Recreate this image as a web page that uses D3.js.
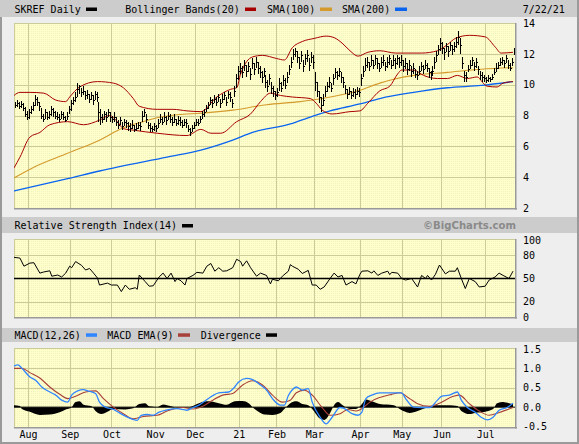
<!DOCTYPE html>
<html><head><meta charset="utf-8">
<script src="https://cdn.jsdelivr.net/npm/d3@7/dist/d3.min.js"></script>
<style>html,body{margin:0;padding:0;background:#eeeeee;overflow:hidden}</style>
</head><body><svg id="c" width="579" height="444"></svg>
<script>
// ---------- DATA ----------
const monthLabels = ["Aug","Sep","Oct","Nov","Dec","21","Feb","Mar","Apr","May","Jun","Jul"];
const monthStarts = [7,28,49,71,91,113,132,151,174,195,215,237];   // trading-day index of month start
const priceTicks = [2,4,6,8,10,12,14];
const rsiTicks = [0,20,50,80,100];
const macdTicks = [-0.5,0,0.5,1.0,1.5];

const hi = [8.9,9.0,8.85,8.95,8.8, 8.55,8.3,8.4,8.6, 8.9,9.3,9.2,8.9, 8.5,8.1,8.4,8.2,8.3, 8.6,8.5,8.3,
  8.2,8.1,8.3,8.2,8.0,8.2, 8.6,9.0,9.2,9.5, 10.1,10.0,9.8,9.9, 9.6,9.65,9.4,9.5,9.3,9.6,9.5, 8.9,8.4,
  8.1,8.3,8.2,8.4,8.2,8.0, 8.2,7.9,7.7,7.9,7.6,7.8,7.7, 7.6,7.5,7.7,7.4,7.5,7.6,7.6, 8.3,8.4,8.1,
  7.6,7.5,7.3,7.5,7.4,7.8, 8.1,7.9,8.2,8.0,8.2,8.1,7.9,8.1,7.8,8.0,7.9,7.7,7.8,7.8, 7.4,7.2,7.4,
  7.6,7.8,7.8,8.0, 8.3,8.4,8.7, 8.9,9.2,9.1,9.3,9.2,9.4,9.1, 9.4,9.5,9.2,9.6,9.5,9.1,9.9, 10.7,11.2,11.4,
  11.2,11.6,11.3,11.5,11.1,11.7,11.4,11.8,11.5, 11.2,10.9,11.1,10.6,10.3,10.7,10.2,9.9, 9.6,9.8,
  10.4,10.2,10.6,10.4,10.8, 11.3,11.8,12.3,12.4,12.2, 11.8,12.2,11.6,12.0,12.25,11.7,12.1,11.9, 10.8,10.2,
  9.6,9.2,9.4, 9.9,10.2,10.5,10.1,10.7, 11.1,10.9,11.1,10.8,10.5, 10.0,9.7,9.85,9.6,9.8,9.7,9.85,9.8,
  10.7,11.2,11.7, 11.8,11.5,11.9,11.6,11.9,11.7,11.4,11.8,11.9,11.5,11.8,11.9,11.6,11.9,11.7,11.9,11.8,11.9,
  11.6,11.7,11.4,11.6,11.2,11.4,11.0,10.9, 11.2,11.5,11.3,11.6,11.4,11.1,10.9,11.2, 11.8,12.2,12.6, 13.0,12.8,
  12.4,12.7,12.5,12.8,12.6,12.8,13.1, 13.5,13.0, 11.8, 10.9,10.8, 11.3,11.6,11.8,11.5,11.7, 11.2,10.9,10.8,
  10.6,10.5,10.6,10.5,10.7, 11.1,11.4,11.5, 11.7,11.8,11.6,11.9, 11.6,11.4,11.7, 12.4];
const lo = [8.5,8.55,8.4,8.5,8.3, 7.9,7.7,7.8,8.1, 8.3,8.6,8.6,8.3, 7.8,7.6,7.8,7.7,7.8, 8.0,7.9,7.8,
  7.7,7.6,7.8,7.7,7.6,7.7, 8.1,8.3,8.7,8.9, 9.2,9.4,9.2,9.3, 9.0,9.1,8.8,9.0,8.7,9.0,8.9, 7.6,7.4,
  7.5,7.7,7.6,7.9,7.6,7.5, 7.6,7.3,7.1,7.4,7.05,7.3,7.2, 7.0,6.95,7.1,6.9,7.0,7.1,7.0, 7.6,7.9,7.5,
  7.1,6.9,6.9,7.0,6.95,7.2, 7.5,7.4,7.6,7.4,7.7,7.5,7.3,7.5,7.3,7.4,7.3,7.2,7.3,7.2, 6.9,6.7,6.9,
  7.1,7.3,7.3,7.5, 7.8,7.9,8.2, 8.4,8.7,8.5,8.8,8.6,8.9,8.5, 8.8,9.0,8.6,9.1,8.9,8.5,9.2, 9.8,10.3,10.7,
  10.4,10.9,10.5,10.8,10.3,11.0,10.6,11.1,10.7, 10.4,10.1,10.5,9.8,9.5,10.0,9.4,9.2, 9.0,9.2,
  9.6,9.5,9.9,9.7,10.1, 10.6,11.1,11.6,11.8,11.4, 11.0,11.5,10.8,11.3,11.5,10.9,11.4,11.0, 9.6,9.2,
  8.8,8.2,8.6, 9.2,9.5,9.8,9.5,10.0, 10.4,10.3,10.5,10.1,9.8, 9.4,9.1,9.3,9.1,9.2,9.1,9.3,9.2,
  9.9,10.5,10.9, 11.1,10.9,11.2,11.0,11.3,11.0,10.8,11.1,11.2,10.9,11.1,11.3,11.0,11.2,11.0,11.3,11.1,11.2,
  10.8,11.0,10.6,10.9,10.5,10.7,10.4,10.3, 10.6,10.9,10.7,11.0,10.8,10.4,10.3,10.6, 11.0,11.5,11.9, 12.2,12.0,
  11.6,12.1,11.8,12.2,11.9,12.1,12.4, 12.6,12.0, 11.0, 10.2,10.2, 10.8,11.0,11.2,10.9,11.1, 10.6,10.3,10.2,
  10.2,10.1,10.2,10.2,10.3, 10.6,10.8,11.0, 11.2,11.3,11.1,11.4, 11.0,10.9,11.2, 11.9];
const cl = [8.7,8.8,8.6,8.75,8.5, 8.1,7.9,8.2,8.4, 8.7,9.1,8.9,8.6, 8.0,7.8,8.2,7.9,8.1, 8.4,8.2,8.0,
  7.9,7.8,8.1,7.9,7.7,8.0, 8.4,8.8,9.0,9.2, 9.7,9.9,9.5,9.6, 9.3,9.4,9.1,9.3,9.0,9.4,9.2, 8.2,7.9,
  7.8,8.1,7.9,8.2,7.9,7.8, 7.9,7.6,7.4,7.7,7.3,7.6,7.5, 7.3,7.2,7.4,7.1,7.2,7.4,7.3, 8.0,8.2,7.8,
  7.4,7.2,7.1,7.3,7.2,7.5, 7.8,7.6,7.9,7.7,8.0,7.8,7.6,7.8,7.5,7.7,7.6,7.4,7.6,7.5, 7.1,6.9,7.2,
  7.4,7.6,7.5,7.8, 8.1,8.2,8.5, 8.7,9.0,8.8,9.1,8.9,9.2,8.8, 9.1,9.3,8.9,9.4,9.2,8.8,9.6, 10.4,10.9,11.1,
  10.8,11.3,10.9,11.2,10.7,11.4,11.0,11.5,11.1, 10.8,10.5,10.9,10.2,9.9,10.4,9.8,9.6, 9.3,9.5,
  10.1,9.8,10.3,10.0,10.5, 11.0,11.5,12.0,12.2,11.8, 11.4,11.9,11.2,11.7,11.9,11.3,11.8,11.5, 10.2,9.6,
  9.2,8.7,9.0, 9.6,9.9,10.2,9.8,10.4, 10.8,10.6,10.9,10.5,10.2, 9.7,9.4,9.6,9.3,9.5,9.4,9.6,9.5,
  10.4,10.9,11.3, 11.5,11.2,11.6,11.3,11.7,11.4,11.1,11.5,11.6,11.2,11.5,11.7,11.3,11.6,11.4,11.7,11.5,11.6,
  11.2,11.4,11.0,11.3,10.9,11.1,10.7,10.6, 10.9,11.2,11.0,11.3,11.1,10.8,10.6,10.9, 11.5,11.9,12.3, 12.7,12.4,
  12.1,12.5,12.2,12.6,12.3,12.5,12.8, 13.1,12.6, 11.4, 10.6,10.5, 11.0,11.3,11.6,11.2,11.5, 11.0,10.6,10.5,
  10.4,10.3,10.45,10.35,10.5, 10.8,11.1,11.3, 11.5,11.6,11.4,11.7, 11.3,11.1,11.5, 12.2];

// overlays: [trading-day index, value]
const bbUpper = [[0,9.3],[3,9.5],[8,9.5],[15,9.45],[21,9.0],[26,8.9],[28,9.2],[33,9.85],[42,10.2],[50,10.1],[55,9.8],[60,9.1],[63,8.6],[72,8.4],[80,8.4],[87,8.3],[94,8.25],[102,9.2],[109,9.7],[112,9.8],[114,10.7],[120,11.8],[125,11.9],[132,11.7],[136,11.6],[140,12.4],[145,12.8],[151,13.0],[157,13.15],[161,13.05],[165,12.7],[169,12.2],[173,11.85],[178,12.1],[184,12.2],[192,12.05],[205,12.05],[213,12.2],[218,12.6],[222,13.0],[229,13.2],[237,13.1],[242,12.45],[245,12.05],[251,12.1]];
const bbLower = [[0,4.6],[3,5.3],[8,6.6],[13,6.9],[18,7.4],[27,7.6],[35,7.4],[43,7.7],[48,8.0],[52,7.6],[55,7.15],[60,7.05],[72,6.85],[87,6.7],[94,7.1],[99,6.85],[104,6.85],[112,7.6],[119,8.1],[124,8.9],[129,9.45],[134,9.3],[140,9.2],[149,9.1],[152,8.8],[155,8.35],[160,8.1],[169,8.25],[174,8.3],[178,8.8],[184,9.6],[189,9.9],[193,10.7],[195,10.95],[201,10.95],[206,10.6],[213,10.4],[218,10.4],[223,10.6],[228,10.4],[233,10.5],[236,10.1],[238,9.9],[243,9.85],[246,10.1],[251,10.2]];
const sma100 = [[0,3.95],[10,4.65],[27,5.55],[43,6.4],[55,7.2],[65,7.6],[72,7.85],[82,8.05],[94,8.15],[110,8.35],[127,8.7],[144,8.9],[155,9.1],[173,9.6],[184,10.1],[191,10.35],[201,10.6],[218,10.8],[235,11.0],[251,11.1]];
const sma200 = [[0,3.1],[27,3.9],[43,4.4],[77,5.3],[94,5.75],[110,6.4],[120,6.9],[139,7.45],[150,7.95],[159,8.3],[174,8.75],[184,9.1],[201,9.5],[218,9.8],[235,9.95],[251,10.2]];

const rsi = [[0,77.5],[3,76.5],[5,66],[8,70],[10,70.5],[13,57],[15,58.5],[18,60],[19,53],[22,54.5],[24,52],[26,57],[28,66],[29,64],[31,72],[34,67],[36,61],[38,63],[40,57],[42,50.5],[43,41.5],[47,44],[49,41.5],[52,41.5],[54,33],[56,41.5],[58,36],[61,38],[62,36],[63,54.5],[66,46],[68,40],[70,40.5],[73,52],[75,57],[77,50],[79,57],[81,46],[82,50],[84,47],[86,41.5],[87,50],[90,54],[92,58],[95,57],[97,66],[99,69.5],[101,59.5],[103,64],[105,59.5],[107,60],[110,64],[112,75],[114,72],[115,66],[117,73],[119,64],[122,53],[124,57],[127,54],[129,43],[130,49],[133,47],[135,53],[138,59.5],[139,68],[140,66],[143,62],[145,56.5],[148,60.5],[150,41.5],[152,41.5],[154,36],[156,39],[159,50],[161,57],[163,52],[165,54],[167,41.5],[170,46],[172,43],[174,55.5],[175,59.5],[178,60],[180,57],[181,60],[183,54],[185,57],[188,59.5],[189,55],[190,58],[193,57],[195,50],[197,48],[200,50],[203,39],[205,54],[207,50],[208,54],[210,48],[212,55.5],[214,67.5],[217,56],[219,59.5],[222,59.5],[223,64],[225,50],[227,37],[229,50],[232,46],[234,39],[237,40],[239,48],[242,52],[244,57],[246,54],[249,50],[251,59.5]];

const macd = [[0,1.06],[2,1.09],[4,1.0],[8,0.78],[11,0.69],[14,0.52],[18,0.39],[21,0.31],[24,0.18],[27,0.13],[29,0.31],[32,0.42],[35,0.45],[37,0.42],[41,0.35],[43,0.13],[46,0.0],[50,-0.06],[53,-0.15],[57,-0.26],[60,-0.32],[62,-0.34],[64,-0.21],[67,-0.19],[70,-0.21],[73,-0.13],[77,-0.07],[82,-0.04],[87,-0.08],[90,-0.01],[93,0.05],[98,0.23],[103,0.37],[108,0.39],[111,0.52],[113,0.65],[117,0.74],[120,0.71],[124,0.57],[127,0.44],[130,0.22],[134,0.05],[136,0.05],[138,0.3],[140,0.45],[142,0.52],[145,0.44],[148,0.48],[150,0.13],[154,-0.26],[157,-0.43],[160,-0.26],[164,-0.01],[166,-0.03],[170,-0.17],[173,-0.21],[175,-0.13],[177,0.22],[180,0.31],[184,0.37],[189,0.37],[195,0.37],[197,0.22],[201,0.0],[205,-0.01],[209,-0.01],[213,0.18],[215,0.28],[219,0.31],[223,0.39],[225,0.18],[228,-0.01],[232,-0.13],[235,-0.26],[238,-0.33],[241,-0.26],[244,-0.08],[248,-0.01],[251,0.1]];
const macdEma = [[0,1.0],[4,1.0],[8,0.89],[13,0.75],[18,0.52],[23,0.33],[27,0.22],[31,0.28],[36,0.39],[41,0.42],[45,0.22],[50,0.0],[55,-0.17],[60,-0.3],[65,-0.24],[72,-0.21],[77,-0.1],[85,-0.01],[90,-0.05],[95,0.02],[100,0.18],[105,0.31],[110,0.35],[115,0.57],[120,0.68],[125,0.57],[130,0.31],[135,0.13],[139,0.18],[142,0.37],[146,0.44],[150,0.31],[155,-0.01],[159,-0.21],[164,-0.17],[168,-0.06],[172,-0.1],[175,-0.04],[179,0.13],[184,0.25],[190,0.33],[194,0.37],[199,0.22],[203,0.09],[209,0.02],[214,0.1],[221,0.28],[224,0.31],[229,0.09],[234,-0.1],[239,-0.21],[244,-0.14],[251,-0.01]];
const divergence = [[0,0.05],[3,0.03],[4,-0.05],[8,-0.12],[13,-0.2],[18,-0.19],[23,-0.13],[26,-0.06],[29,0.0],[31,0.13],[33,0.15],[35,0.06],[39,0.02],[41,-0.1],[44,-0.18],[47,-0.12],[50,-0.05],[56,-0.06],[60,-0.03],[63,0.08],[66,0.1],[68,0.02],[72,0.0],[75,0.07],[77,0.05],[81,0.0],[86,-0.02],[90,0.03],[93,0.1],[97,0.15],[100,0.14],[103,0.1],[107,0.06],[111,0.15],[115,0.16],[118,0.1],[120,0.0],[123,-0.12],[126,-0.19],[130,-0.2],[134,-0.15],[136,-0.05],[139,0.1],[142,0.15],[145,0.08],[148,0.05],[150,-0.05],[154,-0.3],[156,-0.33],[159,-0.15],[161,0.05],[163,0.13],[165,0.06],[169,-0.05],[172,-0.05],[175,0.08],[177,0.2],[180,0.15],[184,0.08],[191,0.05],[194,-0.05],[199,-0.15],[203,-0.1],[207,-0.02],[212,0.05],[219,0.05],[223,0.03],[225,-0.1],[229,-0.18],[232,-0.15],[237,-0.12],[241,-0.05],[243,0.1],[246,0.13],[249,0.1],[251,0.08]];

// ---------- DRAW ----------
const W = 579, H = 444, X0 = 14, X1 = 515;
const FONT = "'DejaVu Sans Mono', monospace";
const svg = d3.select("#c");
const xs = d3.scaleLinear().domain([0, 252]).range([X0, X1]);
const yP = d3.scaleLinear().domain([2, 14]).range([208, 23]);
const yR = d3.scaleLinear().domain([0, 100]).range([317, 240]);
const yM = d3.scaleLinear().domain([-0.5, 1.5]).range([426.5, 349]);

const defs = svg.append("defs");
const pat = defs.append("pattern").attr("id","dots").attr("width",2).attr("height",2).attr("patternUnits","userSpaceOnUse");
pat.append("rect").attr("width",2).attr("height",2).attr("fill","#ffffcc");
pat.append("rect").attr("x",1).attr("y",1).attr("width",1).attr("height",1).attr("fill","#f2f2bf");

svg.append("rect").attr("width", W).attr("height", H).attr("fill", "#eeeeee");
// outer frame
svg.append("rect").attr("x", 0).attr("y", 17).attr("width", 2).attr("height", H - 17).attr("fill", "#9a9a9a");
svg.append("rect").attr("x", 577).attr("y", 0).attr("width", 2).attr("height", H).attr("fill", "#9a9a9a");
svg.append("rect").attr("x", 0).attr("y", 442).attr("width", W).attr("height", 2).attr("fill", "#9a9a9a");
// header bars
[[0, 17], [217, 16], [328, 14]].forEach(([y, h]) =>
  svg.append("rect").attr("x", y === 0 ? 0 : 2).attr("y", y).attr("width", y === 0 ? 577 : 575).attr("height", h).attr("fill", "#cccccc"));

function panel(id, top, bottom, yScale, gridVals) {
  const g = svg.append("g");
  g.append("rect").attr("x", X0).attr("y", top).attr("width", X1 - X0).attr("height", bottom - top).attr("fill", "url(#dots)");
  gridVals.forEach(v => g.append("line").attr("x1", X0).attr("x2", X1)
    .attr("y1", Math.round(yScale(v)) + 0.5).attr("y2", Math.round(yScale(v)) + 0.5)
    .attr("stroke", "#cccc99").attr("stroke-width", 1));
  monthStarts.forEach(m => g.append("line").attr("y1", top).attr("y2", bottom)
    .attr("x1", Math.round(xs(m)) + 0.5).attr("x2", Math.round(xs(m)) + 0.5)
    .attr("stroke", "#cccc99").attr("stroke-width", 1));
  g.append("line").attr("x1", X0).attr("x2", X1).attr("y1", top + 0.5).attr("y2", top + 0.5).attr("stroke", "#cccc99");
  g.append("line").attr("x1", X0 + 0.5).attr("x2", X0 + 0.5).attr("y1", top).attr("y2", bottom).attr("stroke", "#cccc99");
  g.append("line").attr("x1", X0).attr("x2", X1 + 2).attr("y1", bottom + 0.75).attr("y2", bottom + 0.75).attr("stroke", "#999999").attr("stroke-width", 1.5);
  g.append("line").attr("x1", X1 + 0.75).attr("x2", X1 + 0.75).attr("y1", top).attr("y2", bottom + 1.5).attr("stroke", "#999999").attr("stroke-width", 1.5);
  defs.append("clipPath").attr("id", id).append("rect").attr("x", X0).attr("y", top).attr("width", X1 - X0).attr("height", bottom - top);
  return svg.append("g").attr("clip-path", `url(#${id})`);
}

const gP = panel("cp", 23, 208, yP, [4, 6, 8, 10, 12]);
const gR = panel("cr", 239, 317, yR, [20, 80]);
const gM = panel("cm", 348, 427, yM, [0.5, 1.0]);

function drawLine(g, data, yScale, color, width, curve) {
  g.append("path").datum(data)
    .attr("d", d3.line().x(d => xs(d[0])).y(d => yScale(d[1])).curve(curve || d3.curveMonotoneX))
    .attr("fill", "none").attr("stroke", color).attr("stroke-width", width).attr("stroke-linejoin", "round");
}

// price overlays
drawLine(gP, sma200, yP, "#0a64f0", 1.3);
drawLine(gP, sma100, yP, "#d49a2c", 1.1);
drawLine(gP, bbUpper, yP, "#a80000", 1);
drawLine(gP, bbLower, yP, "#a80000", 1);

// price bars (HLC)
let pth = "";
d3.range(cl.length).forEach(i => {
  const x = Math.round(xs(i + 0.5)) + 0.5;
  pth += `M${x},${Math.round(yP(hi[i]))}V${Math.round(yP(lo[i]))}M${x - 0.5},${Math.round(yP(cl[i])) + 0.5}h2`;
});
gP.append("path").attr("d", pth).attr("stroke", "#000").attr("stroke-width", 1).attr("fill", "none")
  .attr("shape-rendering", "crispEdges");

// RSI
gR.append("line").attr("x1", X0).attr("x2", X1).attr("y1", yR(50)).attr("y2", yR(50)).attr("stroke", "#000").attr("stroke-width", 1.5);
drawLine(gR, rsi, yR, "#000", 1, d3.curveLinear);

// MACD
gM.append("path").datum(divergence)
  .attr("d", d3.area().x(d => xs(d[0])).y0(yM(0)).y1(d => yM(d[1])).curve(d3.curveMonotoneX))
  .attr("fill", "#000");
gM.append("line").attr("x1", X0).attr("x2", X1).attr("y1", yM(0)).attr("y2", yM(0)).attr("stroke", "#000").attr("stroke-width", 1);
drawLine(gM, macdEma, yM, "#a8403a", 1.1);
drawLine(gM, macd, yM, "#2f86ff", 1.3);

// axes
function rightAxis(scale, ticks, fmt) {
  const a = svg.append("g").attr("transform", `translate(${X1},0)`)
    .call(d3.axisRight(scale).tickValues(ticks).tickSize(0).tickPadding(8).tickFormat(fmt));
  a.select(".domain").remove();
  a.selectAll("text").attr("font-family", FONT).attr("font-size", 10).attr("fill", "#000");
}
rightAxis(yP, priceTicks, d => String(d));
rightAxis(yR, rsiTicks, d => String(d));
rightAxis(yM, macdTicks, d => d.toFixed(1));

const ax = svg.append("g").attr("transform", `translate(0,427)`)
  .call(d3.axisBottom(xs).tickValues(monthStarts).tickSize(0).tickPadding(4).tickFormat((d, i) => monthLabels[i]));
ax.select(".domain").remove();
ax.selectAll("text").attr("font-family", FONT).attr("font-size", 10).attr("fill", "#000");

// legends
function txt(x, y, s, opts = {}) {
  const t = svg.append("text").attr("x", x).attr("y", y).text(s)
    .attr("font-family", opts.family || FONT).attr("font-size", opts.size || 10)
    .attr("fill", opts.fill || "#000");
  if (opts.anchor) t.attr("text-anchor", opts.anchor);
  if (opts.weight) t.attr("font-weight", opts.weight);
  if (opts.len) t.attr("textLength", opts.len).attr("lengthAdjust", "spacingAndGlyphs");
  return t;
}
function sw(x, y, w, color) {
  svg.append("rect").attr("x", x).attr("y", y).attr("width", w).attr("height", 3.5).attr("fill", color);
}
txt(14.5, 12.5, "SKREF Daily"); sw(86, 7.5, 11, "#000");
txt(125.3, 12.5, "Bollinger Bands(20)"); sw(245, 7.5, 11, "#a80000");
txt(267, 12.5, "SMA(100)"); sw(320, 7.5, 12, "#d49a2c");
txt(342, 12.5, "SMA(200)"); sw(395, 7.5, 12, "#0a64f0");
txt(522.7, 12.5, "7/22/21");

txt(14.5, 229, "Relative Strength Index(14)"); sw(182, 224, 11, "#000");
txt(516, 229, "\u00A9BigCharts.com", { family: "'DejaVu Sans', sans-serif", weight: "bold", fill: "#8a8a8a", anchor: "end", size: 10.5, len: 93 });

txt(14.5, 338.5, "MACD(12,26)"); sw(86, 333.3, 11, "#2f86ff");
txt(107.3, 338.5, "MACD EMA(9)"); sw(178, 333.3, 12, "#a8403a");
txt(200.7, 338.5, "Divergence"); sw(266, 333.3, 11, "#000");
</script></body></html>
